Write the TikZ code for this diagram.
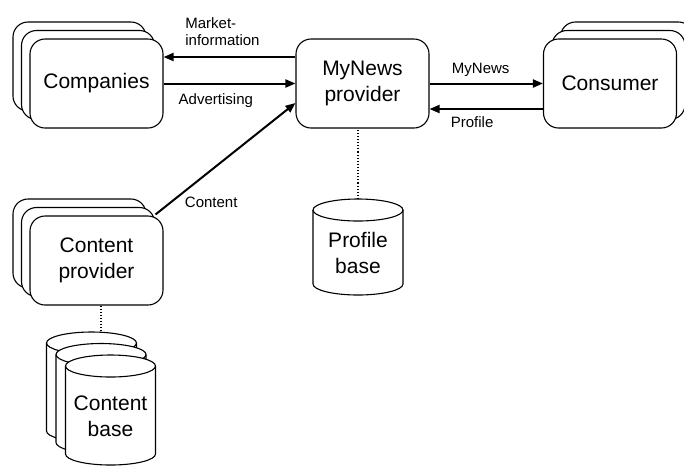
\documentclass[tikz,border=0pt]{standalone}
\usepackage{fontspec}
\setmainfont{Liberation Sans}
\usepackage{tikz}
\usetikzlibrary{
  shapes.geometric,
  arrows.meta,
  positioning,
  calc
}
\newcommand{\boxtxt}{\fontsize{21}{26}\selectfont}
\newcommand{\lbltxt}{\fontsize{15}{17}\selectfont}

% database drum: name, x, y (centre), height, text
\newcommand{\dbcyl}[5]{%
  \draw[drum] ({#2-45},{#3-#4/2+11}) -- ({#2-45},{#3+#4/2-11})
    arc[start angle=180, end angle=0, x radius=45, y radius=11]
    -- ({#2+45},{#3-#4/2+11})
    arc[start angle=360, end angle=180, x radius=45, y radius=11] -- cycle;
  \draw[drum, fill=none] ({#2-45},{#3-#4/2+11})
    arc[start angle=180, end angle=0, x radius=45, y radius=11];
  \node[dbbox, minimum height=#4] (#1) at (#2,#3) {};
  \node[dbtext] (#1txt) at (#2,{#3+6}) {#5};
}

\begin{document}
\begin{tikzpicture}[x=1pt, y=-1pt,
  stackbox/.style={draw, fill=white, rounded corners=15pt, line width=1.1pt,
    minimum width=133pt, minimum height=89pt, align=center, font=\boxtxt},
  drum/.style={draw, fill=white, line width=1.1pt},
  dbbox/.style={inner sep=0pt, outer sep=0pt, minimum width=90pt},
  dbtext/.style={align=center, font=\boxtxt},
  flow/.style={-{Triangle[length=10pt,width=8pt]}, line width=2pt},
  link/.style={dotted, line width=1.1pt},
  lbl/.style={font=\lbltxt, inner sep=1pt, align=left}
]

\clip (0,0) rectangle (684,467);

% Companies (stack)
\node[stackbox] (compC) at (79.5,66.5) {};
\node[stackbox] (compB) at (88,75) {};
\node[stackbox] (comp)  at (96.5,83.5) {Companies};

% MyNews provider
\node[stackbox] (mynews) at (362.5,83.5) {MyNews\\provider};

% Consumer (stack)
\node[stackbox] (consC) at (627,66.5) {};
\node[stackbox] (consB) at (618.5,75) {};
\node[stackbox] (cons)  at (610,83.5) {Consumer};

% Content provider (stack)
\node[stackbox] (cprovC) at (79.5,243.5) {};
\node[stackbox] (cprovB) at (88,252) {};
\node[stackbox] (cprov)  at (96.5,260.5) {Content\\provider};

% Databases
\dbcyl{pbase}{358}{247}{96}{Profile\\base}
\dbcyl{cbaseC}{91.5}{387}{110}{}
\dbcyl{cbaseB}{101}{398.5}{110}{}
\dbcyl{cbase}{110.5}{410}{110}{Content\\base}

% Flows
\draw[flow] ([yshift=26.5pt]mynews.west) -- ([yshift=26.5pt]comp.east)
  node[lbl, pos=0.85, anchor=south west, yshift=9pt] {Market-\\information};
\draw[flow] (comp.east) -- (mynews.west)
  node[lbl, pos=0.1, anchor=north west, yshift=-8pt] {Advertising};
\draw[flow] (mynews.east) -- (cons.west)
  node[lbl, pos=0.18, anchor=south west, yshift=5pt] {MyNews};
\draw[flow] ([yshift=-25.5pt]cons.west) -- ([yshift=-25.5pt]mynews.east)
  node[lbl, pos=0.83, anchor=north west, yshift=-6pt] {Profile};
\draw[flow] ([shift={(-8pt,1pt)}]cprov.north east) -- ([yshift=-19.5pt]mynews.west)
  node[lbl, pos=0.21, anchor=north west, shift={(-2pt,-3.5pt)}] {Content};

% Storage links
\draw[link] (pbase.north) -- (pbase.north |- mynews.south);
\draw[link] ([xshift=4.5pt]cprov.south) -- ([xshift=4.5pt]cprov.south |- cbaseC.north);

\end{tikzpicture}
\end{document}
